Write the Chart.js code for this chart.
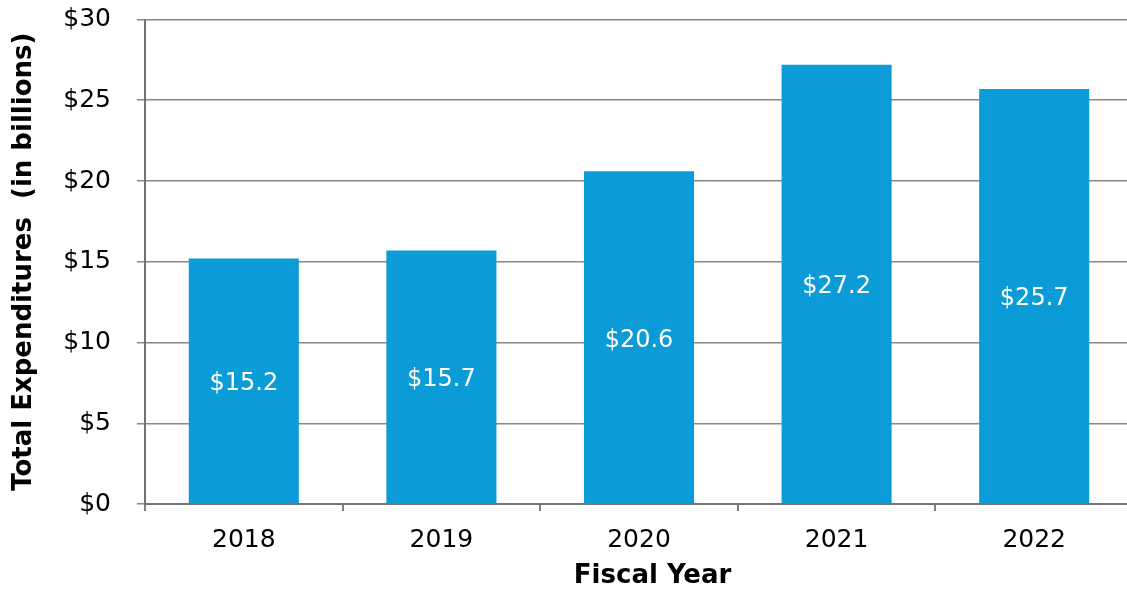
<!DOCTYPE html>
<html>
<head>
<meta charset="utf-8">
<script src="https://cdn.jsdelivr.net/npm/chart.js@4"></script>
<style>
html,body{margin:0;padding:0;overflow:hidden;background:#fff;width:1127px;height:592px;}
#wrap{width:1133px;height:592px;position:relative;}
</style>
</head>
<body>
<div id="wrap"><canvas id="c"></canvas></div>
<script>
const categories = ['2018', '2019', '2020', '2021', '2022'];
const expenditures = [15.2, 15.7, 20.6, 27.2, 25.7];
const valueLabels = ['$15.2', '$15.7', '$20.6', '$27.2', '$25.7'];
const yTicks = [0, 5, 10, 15, 20, 25, 30];

const barLabelPlugin = {
  id: 'barLabels',
  afterDatasetsDraw(chart) {
    const ctx = chart.ctx;
    const meta = chart.getDatasetMeta(0);
    ctx.save();
    ctx.fillStyle = '#ffffff';
    ctx.font = '24px "DejaVu Sans"';
    ctx.textAlign = 'center';
    ctx.textBaseline = 'middle';
    meta.data.forEach((bar, i) => {
      const cy = (bar.y + bar.base) / 2 + 3;
      ctx.fillText(valueLabels[i], bar.x, cy);
    });
    ctx.restore();
  }
};

new Chart(document.getElementById('c'), {
  type: 'bar',
  data: {
    labels: categories,
    datasets: [{
      data: expenditures,
      backgroundColor: '#0b9cd8',
      borderWidth: 0,
      barPercentage: 0.557,
      categoryPercentage: 1.0
    }]
  },
  options: {
    responsive: true,
    maintainAspectRatio: false,
    animation: false,
    layout: { padding: { top: 19.5, right: 0, bottom: 0, left: 0 } },
    plugins: { legend: { display: false }, tooltip: { enabled: false } },
    scales: {
      x: {
        offset: true,
        grid: { drawOnChartArea: false, drawTicks: true, tickLength: 7, color: '#808080', lineWidth: 2, offset: true },
        border: { color: '#737373', width: 2 },
        ticks: { color: '#000', font: { family: 'DejaVu Sans', size: 25 }, padding: 14 },
        title: { display: true, text: '   Fiscal Year', color: '#000', font: { family: 'DejaVu Sans', size: 26, weight: 'bold', lineHeight: 1.2 }, padding: { top: 0, bottom: 0 } },
        afterFit(scale) { scale.height = 88; scale.paddingLeft = 0; scale.paddingRight = 0; }
      },
      y: {
        min: 0, max: 30,
        afterBuildTicks(scale) { scale.ticks = yTicks.map(v => ({ value: v })); },
        grid: { color: '#888888', lineWidth: 1.5, tickLength: 8, drawTicks: true },
        border: { color: '#737373', width: 2 },
        ticks: { color: '#000', font: { family: 'DejaVu Sans', size: 25 }, padding: 26, callback: v => '$' + v },
        title: { display: true, text: 'Total Expenditures  (in billions)', color: '#000', font: { family: 'DejaVu Sans', size: 26, weight: 'bold', lineHeight: 1.2 }, padding: { top: 9, bottom: 0 } },
        afterFit(scale) { scale.width = 145; scale.paddingTop = 0; scale.paddingBottom = 0; }
      }
    }
  },
  plugins: [barLabelPlugin]
});
</script>
</body>
</html>
